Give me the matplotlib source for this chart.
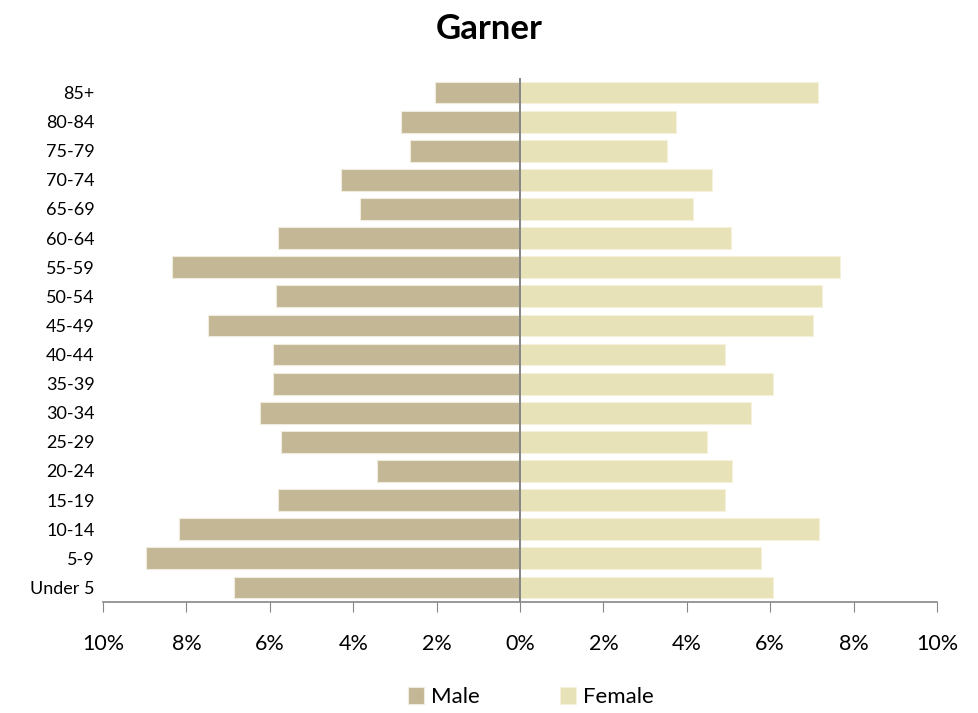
import numpy as np
import matplotlib.pyplot as plt
from matplotlib.ticker import FuncFormatter

# age groups, bottom to top
age_groups = ['Under 5', '5-9', '10-14', '15-19', '20-24', '25-29', '30-34',
              '35-39', '40-44', '45-49', '50-54', '55-59', '60-64', '65-69',
              '70-74', '75-79', '80-84', '85+']

# percent of population
male = [6.86, 8.97, 8.18, 5.80, 3.43, 5.73, 6.23, 5.92, 5.92, 7.48, 5.85,
        8.35, 5.80, 3.84, 4.29, 2.64, 2.85, 2.04]
female = [6.07, 5.78, 7.17, 4.92, 5.08, 4.48, 5.54, 6.07, 4.92, 7.03, 7.24,
          7.67, 5.06, 4.15, 4.60, 3.53, 3.74, 7.15]

x_ticks = [-10, -8, -6, -4, -2, 0, 2, 4, 6, 8, 10]

male_color = '#C4B796'
female_color = '#E8E2B8'
axis_color = '#868686'

plt.rcParams['font.family'] = ['Lato', 'DejaVu Sans']

fig = plt.figure(figsize=(9.79, 7.13), dpi=100)
ax = fig.add_axes([0.1052, 0.1557, 0.8519, 0.7349])

y = np.arange(len(age_groups))
ax.barh(y, -np.array(male), height=0.75, color=male_color,
        edgecolor='#EFEBDD', linewidth=0.8, label='Male')
ax.barh(y, female, height=0.75, color=female_color,
        edgecolor='#F5F1DC', linewidth=0.8, label='Female')

ax.set_xlim(-10, 10)
ax.set_ylim(-0.5, len(age_groups) - 0.5)
ax.set_yticks(y)
ax.set_yticklabels(age_groups, fontsize=13)
ax.set_xticks(x_ticks)
ax.xaxis.set_major_formatter(FuncFormatter(lambda v, p: '%d%%' % abs(v)))
ax.tick_params(axis='x', labelsize=15.5, length=7, color=axis_color,
               pad=16, direction='out')
ax.tick_params(axis='y', length=0, pad=6)

for side in ['top', 'right', 'left']:
    ax.spines[side].set_visible(False)
ax.spines['bottom'].set_color(axis_color)
ax.spines['bottom'].set_linewidth(1.2)
ax.axvline(0, color=axis_color, linewidth=1.4, zorder=3)

fig.suptitle('Garner', fontsize=25, fontweight='bold', y=0.982)

fig.legend(loc='lower center', bbox_to_anchor=(0.542, -0.02), ncol=2,
           frameon=False, fontsize=16, handlelength=0.75, handleheight=0.75,
           handletextpad=0.3, columnspacing=3.6)

fig.savefig('out.png', dpi=100)
